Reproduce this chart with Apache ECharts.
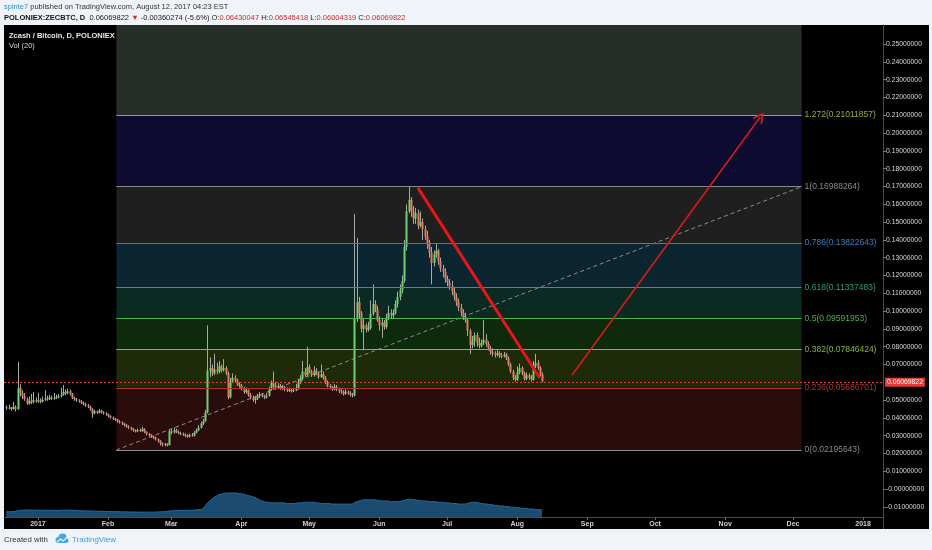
<!DOCTYPE html>
<html><head><meta charset="utf-8">
<script src="https://cdn.jsdelivr.net/npm/echarts@6/dist/echarts.min.js"></script>
<style>html,body{margin:0;padding:0;background:#f0f3f8;}#c{width:932px;height:550px;}</style>
</head><body><div id="c"></div>
<script>
// ---------- DATA ----------
// day offsets relative to 2017-01-01; first candle = 2016-12-18
const firstDay = -14;
// daily candles [open, close, low, high]
const candles = [
// Dec 2016
[.0460,.0455,.0445,.0470],[.0455,.0458,.0448,.0475],[.0458,.0450,.0440,.0462],[.0450,.0462,.0446,.0490],
[.0462,.0448,.0436,.0470],[.0448,.0568,.0446,.0715],[.0568,.0540,.0520,.0590],[.0540,.0525,.0505,.0555],
[.0525,.0505,.0495,.0540],[.0505,.0480,.0472,.0515],[.0480,.0495,.0475,.0520],[.0495,.0488,.0478,.0535],
[.0488,.0500,.0482,.0545],[.0500,.0492,.0485,.0515],
// Jan 2017
[.0492,.0498,.0485,.0540],[.0498,.0490,.0482,.0510],[.0490,.0502,.0486,.0520],[.0502,.0510,.0495,.0555],
[.0510,.0505,.0496,.0525],[.0505,.0515,.0500,.0530],[.0515,.0508,.0500,.0525],[.0508,.0512,.0502,.0540],
[.0512,.0518,.0505,.0530],[.0518,.0522,.0510,.0535],[.0522,.0530,.0515,.0570],[.0530,.0545,.0525,.0585],
[.0545,.0538,.0528,.0560],[.0538,.0550,.0532,.0565],[.0550,.0535,.0525,.0560],[.0535,.0512,.0505,.0540],
[.0512,.0505,.0496,.0520],[.0505,.0498,.0490,.0512],[.0498,.0492,.0485,.0505],[.0492,.0485,.0478,.0500],
[.0485,.0478,.0470,.0492],[.0478,.0470,.0462,.0485],[.0470,.0462,.0455,.0478],[.0462,.0450,.0440,.0470],
[.0450,.0425,.0400,.0455],[.0425,.0438,.0420,.0445],[.0438,.0430,.0422,.0442],[.0430,.0440,.0425,.0450],
[.0440,.0432,.0425,.0445],[.0432,.0425,.0418,.0438],[.0425,.0420,.0412,.0432],
// Feb
[.0420,.0410,.0402,.0425],[.0410,.0402,.0395,.0415],[.0402,.0395,.0388,.0408],[.0395,.0390,.0382,.0400],
[.0390,.0380,.0372,.0395],[.0380,.0375,.0368,.0388],[.0375,.0368,.0360,.0380],[.0368,.0360,.0352,.0372],
[.0360,.0352,.0345,.0365],[.0352,.0345,.0338,.0358],[.0345,.0338,.0330,.0350],[.0338,.0330,.0322,.0342],
[.0330,.0325,.0318,.0335],[.0325,.0332,.0320,.0340],[.0332,.0328,.0320,.0340],[.0328,.0338,.0322,.0350],
[.0338,.0322,.0315,.0342],[.0322,.0310,.0302,.0325],[.0310,.0302,.0295,.0315],[.0302,.0295,.0288,.0308],
[.0295,.0290,.0282,.0300],[.0290,.0280,.0272,.0295],[.0280,.0272,.0262,.0285],[.0272,.0258,.0245,.0275],
[.0258,.0250,.0238,.0262],[.0250,.0252,.0240,.0260],[.0252,.0248,.0240,.0258],[.0248,.0325,.0245,.0335],
// Mar
[.0325,.0318,.0308,.0340],[.0318,.0330,.0312,.0345],[.0330,.0322,.0315,.0338],[.0322,.0315,.0308,.0330],
[.0315,.0310,.0302,.0322],[.0310,.0305,.0298,.0318],[.0305,.0300,.0292,.0312],[.0300,.0295,.0288,.0308],
[.0295,.0305,.0290,.0312],[.0305,.0300,.0294,.0315],[.0300,.0318,.0296,.0325],[.0318,.0330,.0312,.0340],
[.0330,.0345,.0325,.0360],[.0345,.0368,.0340,.0378],[.0368,.0382,.0360,.0395],[.0382,.0430,.0378,.0445],
[.0430,.0665,.0425,.0920],[.0665,.0680,.0630,.0740],[.0680,.0650,.0635,.0700],[.0650,.0672,.0640,.0760],
[.0672,.0660,.0645,.0710],[.0660,.0690,.0650,.0720],[.0690,.0668,.0655,.0700],[.0668,.0680,.0660,.0730],
[.0680,.0650,.0640,.0690],[.0650,.0515,.0505,.0660],[.0515,.0605,.0510,.0625],[.0605,.0625,.0595,.0650],
[.0625,.0610,.0600,.0640],[.0610,.0590,.0580,.0620],[.0590,.0580,.0570,.0600],
// Apr
[.0580,.0565,.0555,.0590],[.0565,.0545,.0535,.0575],[.0545,.0555,.0538,.0570],[.0555,.0530,.0520,.0560],
[.0530,.0515,.0505,.0540],[.0515,.0500,.0490,.0525],[.0500,.0508,.0480,.0520],[.0508,.0520,.0500,.0535],
[.0520,.0530,.0512,.0545],[.0530,.0522,.0515,.0540],[.0522,.0515,.0505,.0530],[.0515,.0525,.0508,.0540],
[.0525,.0560,.0520,.0575],[.0560,.0595,.0552,.0610],[.0595,.0585,.0570,.0660],[.0585,.0570,.0560,.0600],
[.0570,.0580,.0562,.0595],[.0580,.0565,.0558,.0590],[.0565,.0572,.0558,.0585],[.0572,.0560,.0550,.0580],
[.0560,.0552,.0545,.0570],[.0552,.0558,.0545,.0570],[.0558,.0550,.0542,.0565],[.0550,.0555,.0545,.0570],
[.0555,.0565,.0550,.0590],[.0565,.0600,.0558,.0620],[.0600,.0620,.0590,.0640],[.0620,.0660,.0610,.0720],
[.0660,.0640,.0630,.0680],[.0640,.0685,.0632,.0800],
// May
[.0685,.0660,.0650,.0700],[.0660,.0640,.0630,.0670],[.0640,.0665,.0632,.0690],[.0665,.0650,.0640,.0680],
[.0650,.0630,.0620,.0660],[.0630,.0645,.0625,.0700],[.0645,.0625,.0615,.0660],[.0625,.0600,.0590,.0635],
[.0600,.0580,.0572,.0610],[.0580,.0570,.0560,.0590],[.0570,.0560,.0552,.0580],[.0560,.0575,.0555,.0590],
[.0575,.0560,.0550,.0585],[.0560,.0550,.0540,.0570],[.0550,.0545,.0535,.0560],[.0545,.0535,.0525,.0555],
[.0535,.0548,.0528,.0560],[.0548,.0540,.0530,.0555],[.0540,.0530,.0520,.0550],[.0530,.0525,.0515,.0540],
[.0525,.0960,.0520,.1545],[.0960,.1050,.0940,.1410],[.1050,.0990,.0960,.1080],[.0990,.0900,.0880,.1000],
[.0900,.0920,.0780,.0960],[.0920,.0895,.0880,.0930],[.0895,.0905,.0885,.0940],[.0905,.0985,.0895,.1060],
[.0985,.1040,.0975,.1150],[.1040,.1010,.0995,.1060],[.1010,.0950,.0940,.1030],
// Jun
[.0950,.0920,.0890,.0970],[.0920,.0935,.0850,.0960],[.0935,.0910,.0895,.0950],[.0910,.0960,.0900,.0985],
[.0960,.0990,.0950,.1030],[.0990,.0975,.0960,.1010],[.0975,.0990,.0960,.1010],[.0990,.1040,.0980,.1060],
[.1040,.1080,.1020,.1110],[.1080,.1120,.1060,.1150],[.1120,.1170,.1100,.1200],[.1170,.1360,.1160,.1400],
[.1360,.1560,.1340,.1600],[.1560,.1625,.1550,.1699],[.1625,.1560,.1530,.1640],[.1560,.1520,.1490,.1590],
[.1520,.1550,.1490,.1580],[.1550,.1480,.1460,.1570],[.1480,.1500,.1470,.1560],[.1500,.1460,.1400,.1520],
[.1460,.1420,.1400,.1480],[.1420,.1380,.1350,.1450],[.1380,.1330,.1300,.1400],[.1330,.1270,.1150,.1360],
[.1270,.1320,.1250,.1340],[.1320,.1340,.1300,.1380],[.1340,.1280,.1260,.1350],[.1280,.1240,.1220,.1300],
[.1240,.1220,.1190,.1260],[.1220,.1180,.1160,.1240],
// Jul
[.1180,.1160,.1140,.1200],[.1160,.1140,.1120,.1180],[.1140,.1110,.1090,.1170],[.1110,.1080,.1060,.1130],
[.1080,.1050,.1030,.1100],[.1050,.1020,.1000,.1070],[.1020,.0990,.0970,.1040],[.0990,.0965,.0950,.1010],
[.0965,.0950,.0935,.0990],[.0950,.0890,.0860,.0960],[.0890,.0810,.0760,.0900],[.0810,.0830,.0790,.0860],
[.0830,.0865,.0800,.0880],[.0865,.0820,.0800,.0880],[.0820,.0805,.0790,.0850],[.0805,.0820,.0795,.0840],
[.0820,.0840,.0810,.0950],[.0840,.0815,.0800,.0870],[.0815,.0790,.0780,.0830],[.0790,.0770,.0755,.0805],
[.0770,.0760,.0745,.0790],[.0760,.0755,.0740,.0775],[.0755,.0765,.0745,.0780],[.0765,.0750,.0738,.0775],
[.0750,.0745,.0735,.0765],[.0745,.0755,.0740,.0770],[.0755,.0735,.0725,.0765],[.0735,.0700,.0690,.0745],
[.0700,.0660,.0650,.0710],[.0660,.0625,.0612,.0670],[.0625,.0615,.0605,.0640],
// Aug
[.0615,.0655,.0608,.0690],[.0655,.0680,.0645,.0705],[.0680,.0650,.0640,.0690],[.0650,.0620,.0610,.0660],
[.0620,.0640,.0612,.0655],[.0640,.0625,.0615,.0650],[.0625,.0615,.0605,.0640],[.0615,.0690,.0610,.0720],
[.0690,.0710,.0680,.0760],[.0710,.0680,.0670,.0725],[.0680,.0643,.0635,.0690],[.0643,.0607,.0600,.0655]
];
// Vol (20) moving average, per day (BTC)
const volMA = [
420,430,430,440,450,520,540,550,560,560,570,570,560,560,
560,560,550,550,550,540,540,540,530,530,540,550,560,560,560,550,540,530,520,510,500,500,490,490,480,480,470,470,460,460,460,
450,450,440,440,430,430,420,420,420,410,410,410,400,400,400,400,400,390,390,390,390,400,410,420,430,440,460,480,
500,510,520,520,530,530,530,540,540,550,560,580,600,620,650,900,1150,1300,1450,1600,1700,1800,1850,1900,1950,1950,1950,1950,1950,1950,1900,
1900,1850,1800,1750,1700,1650,1600,1500,1400,1300,1250,1200,1200,1150,1150,1150,1150,1150,1150,1150,1100,1100,1100,1100,1100,1150,1150,1150,1200,1200,
1200,1200,1200,1150,1150,1100,1100,1100,1100,1100,1050,1050,1050,1050,1050,1050,1050,1050,1050,1050,1150,1250,1300,1350,1400,1400,1400,1400,1400,1400,1350,
1350,1300,1300,1300,1300,1250,1250,1250,1250,1250,1300,1350,1400,1450,1450,1400,1400,1350,1350,1300,1300,1300,1250,1250,1250,1250,1200,1200,1200,1150,1150,
1150,1100,1100,1100,1050,1050,1050,1050,1100,1150,1200,1200,1200,1150,1100,1100,1050,1050,1000,1000,950,950,900,900,900,850,850,800,800,800,750,750,700,700,700,650,650,650,600,600,600,550
];
const fibLevels = [0, 0.236, 0.382, 0.5, 0.618, 0.786, 1, 1.272, 1.618];
const fibPrices = [0.02195643, 0.05686701, 0.07846424, 0.09591953, 0.11337483, 0.13822643, 0.16988264, 0.21011857, 0.26130104];
const fibAnchorDays = [34.7, 337.8];          // fib drawing start / end dates (day offsets)
const trendDown = [[168.1, 0.1692], [222.0, 0.0624]];   // thick red trend line
const arrowUp = [[236.3, 0.0641], [319.5, 0.2090]];     // projected red arrow
const lastPrice = 0.06069822;
const monthDays = [0, 31, 59, 90, 120, 151, 181, 212, 243, 273, 304, 334, 365];
const monthLabels = ['2017','Feb','Mar','Apr','May','Jun','Jul','Aug','Sep','Oct','Nov','Dec','2018'];
const yTicks = [-0.01,0,0.01,0.02,0.03,0.04,0.05,0.07,0.08,0.09,0.10,0.11,0.12,0.13,0.14,0.15,0.16,0.17,0.18,0.19,0.20,0.21,0.22,0.23,0.24,0.25];

// ---------- STYLE ----------
const fibLineColors = ['#8a8a8a','#b23232','#8fb33c','#4caf50','#2e9c78','#3a80bd','#8a8a8a','#9aa83c'];
const fibFillColors = ['#2b0c0c','#1f2a09','#0d2a0c','#0b2a22','#0b2531','#1f1f1f','#0d0b2f','#262e28'];
const upColor = '#6cd46c', downColor = '#e67a5c', wickColor = '#a8a8a8';
const F = 'Liberation Sans, Arial, sans-serif';

const chart = echarts.init(document.getElementById('c'), null, {renderer: 'canvas'});

const candleData = candles.map((r, i) => [firstDay + i, r[0], r[1], r[2], r[3]]);
const volData = volMA.map((v, i) => [firstDay + i, v]);

const fibAreas = [], fibLines = [];
for (let i = 0; i < fibPrices.length - 1; i++) {
  fibAreas.push([
    {coord: [fibAnchorDays[0], fibPrices[i]], itemStyle: {color: fibFillColors[i]}},
    {coord: [fibAnchorDays[1], fibPrices[i + 1]]}
  ]);
  fibLines.push([
    {coord: [fibAnchorDays[0], fibPrices[i]], lineStyle: {color: fibLineColors[i], width: 1, type: 'solid'},
     label: {show: true, position: 'end', distance: 3, formatter: fibLevels[i] + '(' + fibPrices[i].toFixed(8) + ')',
             color: fibLineColors[i], fontSize: 8.5, fontFamily: F}},
    {coord: [fibAnchorDays[1], fibPrices[i]]}
  ]);
}

const chevron = 'path://M0,0 L6,8 L4.6,9 L0,2.6 L-4.6,9 L-6,8 Z';

const option = {
  animation: false,
  backgroundColor: '#f0f3f8',
  grid: {left: 4, right: 49, top: 25, bottom: 33},
  xAxis: {
    type: 'value', min: -15, max: 373.8,
    axisLine: {show: true, onZero: false, lineStyle: {color: '#4a4a4a'}},
    axisTick: {show: true, customValues: monthDays, length: 3, lineStyle: {color: '#666'}},
    axisLabel: {customValues: monthDays, formatter: v => monthLabels[monthDays.indexOf(v)],
                color: '#cfcfcf', fontSize: 7, fontWeight: 'bold', fontFamily: F, margin: 4},
    splitLine: {show: false}
  },
  yAxis: [{
    type: 'value', position: 'right', min: -0.01568, max: 0.26072,
    axisLine: {show: true, onZero: false, lineStyle: {color: '#4a4a4a'}},
    axisTick: {show: true, customValues: yTicks, length: 3, lineStyle: {color: '#777'}},
    axisLabel: {customValues: yTicks, formatter: v => (Math.abs(v) < 1e-9 ? '-0.00000000' : v.toFixed(8)),
                color: '#d8d8d8', fontSize: 6.8, fontFamily: F, margin: 3},
    splitLine: {show: false}
  }, {
    type: 'value', min: 0, max: 40000, show: false,
    axisLine: {show: false, onZero: false}
  }],
  graphic: [
    {type: 'rect', z: -1, shape: {x: 4, y: 25, width: 925, height: 504}, style: {fill: '#000'}},
    {type: 'line', z: 10, shape: {x1: 883.5, y1: 517, x2: 883.5, y2: 529}, style: {stroke: '#4a4a4a', lineWidth: 1}},
    {type: 'text', z: 10, style: {x: 4, y: 7, verticalAlign: 'middle', fontFamily: F, fontSize: 7.5,
      text: '{a|spinte7} {b|published on TradingView.com, August 12, 2017 04:23 EST}',
      rich: {a: {fill: '#2f93d8', fontSize: 7.5, fontFamily: F}, b: {fill: '#333', fontSize: 7.5, fontFamily: F}}}},
    {type: 'text', z: 10, style: {x: 4, y: 17.5, verticalAlign: 'middle', fontFamily: F, fontSize: 7.5,
      text: '{k|POLONIEX:ZECBTC, D}  {n|0.06069822} {r|▼} {n|-0.00360274 (-5.6%)} {n|O:}{r|0.06430047} {n|H:}{r|0.06545418} {n|L:}{r|0.06004319} {n|C:}{r|0.06069822}',
      rich: {k: {fill: '#111', fontWeight: 'bold', fontSize: 7.5, fontFamily: F},
             n: {fill: '#222', fontSize: 7.5, fontFamily: F},
             r: {fill: '#d42a2a', fontSize: 7.5, fontFamily: F}}}},
    {type: 'text', z: 10, style: {x: 9, y: 36, verticalAlign: 'middle', text: 'Zcash / Bitcoin, D, POLONIEX',
      fill: '#e8e8e8', fontWeight: 'bold', fontSize: 7.5, fontFamily: F}},
    {type: 'text', z: 10, style: {x: 9, y: 45.5, verticalAlign: 'middle', text: 'Vol (20)',
      fill: '#d8d8d8', fontSize: 7.5, fontFamily: F}},
    {type: 'text', z: 10, style: {x: 4, y: 540, verticalAlign: 'middle', text: 'Created with',
      fill: '#333', fontSize: 7.8, fontFamily: F}},
    {type: 'group', z: 10, children: [
      {type: 'circle', shape: {cx: 58.5, cy: 540, r: 3}, style: {fill: '#47a8df'}},
      {type: 'circle', shape: {cx: 62.5, cy: 537.5, r: 4}, style: {fill: '#47a8df'}},
      {type: 'circle', shape: {cx: 66, cy: 540.5, r: 2.5}, style: {fill: '#47a8df'}},
      {type: 'rect', shape: {x: 58.5, y: 540, width: 7.5, height: 3}, style: {fill: '#47a8df'}},
      {type: 'polyline', shape: {points: [[57, 542], [60.5, 539], [63, 541], [67, 537.5]]}, style: {stroke: '#f0f3f8', lineWidth: 1.1, fill: null}}
    ]},
    {type: 'text', z: 10, style: {x: 72, y: 540, verticalAlign: 'middle', text: 'TradingView',
      fill: '#3aa0dd', fontSize: 8, fontFamily: F}}
  ],
  series: [
    { // fib drawing: zones, levels and dashed trend diagonal
      type: 'line', z: 1, silent: true, symbol: 'none',
      data: [[fibAnchorDays[0], fibPrices[0]], [fibAnchorDays[1], fibPrices[6]]],
      lineStyle: {color: '#8c8c8c', width: 1, type: [4, 3]},
      markArea: {silent: true, data: fibAreas},
      markLine: {silent: true, symbol: 'none', data: fibLines, label: {show: true}}
    },
    { // volume MA
      type: 'line', z: 2, yAxisIndex: 1, symbol: 'none', silent: true,
      data: volData,
      lineStyle: {color: '#2a6795', width: 1},
      areaStyle: {color: '#1c4b70', opacity: 1}
    },
    { // candles
      type: 'custom', z: 3, silent: true, clip: true,
      data: candleData,
      encode: {x: 0, y: [1, 2, 3, 4]},
      renderItem: function (params, api) {
        const d = api.value(0), o = api.value(1), c = api.value(2), l = api.value(3), h = api.value(4);
        const pO = api.coord([d, o]), pC = api.coord([d, c]), pL = api.coord([d, l]), pH = api.coord([d, h]);
        const w = 2;
        const x = Math.round(pO[0]) + 0.5;
        const top = Math.min(pO[1], pC[1]);
        return {type: 'group', children: [
          {type: 'line', shape: {x1: x, y1: pH[1], x2: x, y2: pL[1]}, style: {stroke: wickColor, lineWidth: 1}},
          {type: 'rect', shape: {x: x - 1, y: top, width: w, height: Math.max(1, Math.abs(pO[1] - pC[1]))},
           style: {fill: c >= o ? upColor : downColor}}
        ]};
      }
    },
    { // red drawings and last-price line
      type: 'line', z: 5, silent: true, symbol: 'none',
      data: trendDown,
      lineStyle: {color: '#e8161b', width: 3},
      markLine: {
        silent: true, symbol: 'none',
        data: [
          [{coord: arrowUp[0], symbol: 'none', lineStyle: {color: '#e0191c', width: 1.5, type: 'solid'}, label: {show: false}},
           {coord: arrowUp[1], symbol: chevron, symbolSize: [11, 11]}],
          {yAxis: lastPrice, lineStyle: {color: '#e33b3b', width: 1, type: [2, 2]},
           label: {show: true, position: 'end', distance: 2, formatter: lastPrice.toFixed(8),
                   color: '#fff', backgroundColor: '#e53935', padding: [1, 2, 1, 2], fontSize: 6.8, fontFamily: F}}
        ]
      }
    }
  ]
};
chart.setOption(option);
</script>
</body></html>
